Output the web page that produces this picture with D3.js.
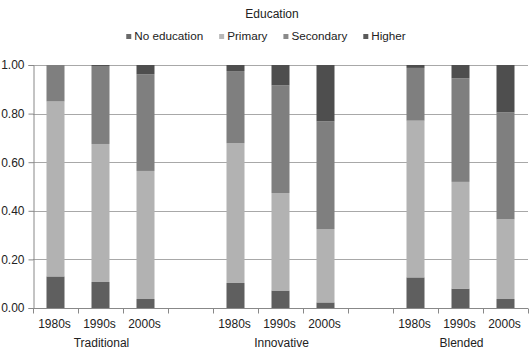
<!DOCTYPE html>
<html lang="en">
  <head>
    <meta charset="utf-8">
    <title>Education stacked bars</title>
    <style>
      body { margin: 0; background: #fff; }
      text { font-family: 'Liberation Sans', Arial, sans-serif; fill: #222; }
    </style>
  </head>
  <body>
    <svg width="530" height="352"></svg>
    <script src="https://cdn.jsdelivr.net/npm/d3@7"></script>
    <script>
      // data
      const groups = ['Traditional', 'Innovative', 'Blended'];
      const decades = ['1980s', '1990s', '2000s'];
      const series = ['No education', 'Primary', 'Secondary', 'Higher'];
      const y_ticks = [0, 0.2, 0.4, 0.6, 0.8, 1.0];

      // one array per series, order: Traditional 80/90/00, Innovative 80/90/00, Blended 80/90/00
      const no_education = [0.130, 0.107, 0.037, 0.103, 0.072, 0.023, 0.126, 0.080, 0.037];
      const primary      = [0.720, 0.568, 0.527, 0.575, 0.401, 0.302, 0.645, 0.439, 0.328];
      const secondary    = [0.150, 0.321, 0.398, 0.297, 0.443, 0.443, 0.217, 0.426, 0.440];
      const higher       = [0.000, 0.004, 0.038, 0.025, 0.084, 0.232, 0.012, 0.055, 0.195];

      const colors = ['#5f5f5f', '#b2b2b2', '#7f7f7f', '#4e4e4e'];
      const legend_colors = ['#6a6a6a', '#b8b8b8', '#8a8a8a', '#5a5a5a'];

      const svg = d3.select('svg');
      const margin = {top: 65, right: 2, bottom: 44, left: 33};
      const svg_width = +svg.attr('width');
      const svg_height = +svg.attr('height');

      // slots: 3 decades per group, with one empty slot between groups
      const slots = [];
      groups.forEach((g, gi) => {
        decades.forEach(d => slots.push({key: g + '-' + d, group: g, decade: d}));
        if (gi < groups.length - 1) slots.push({key: 'gap-' + gi, group: null, decade: ''});
      });

      const rows = [];
      let k = 0;
      slots.forEach(s => {
        if (s.group === null) return;
        rows.push({
          key: s.key,
          'No education': no_education[k],
          'Primary': primary[k],
          'Secondary': secondary[k],
          'Higher': higher[k]
        });
        k++;
      });

      const x_scale = d3.scaleBand()
        .domain(slots.map(s => s.key))
        .range([margin.left, svg_width - margin.right])
        .paddingInner(0.6)
        .paddingOuter(0.3);
      const step = x_scale.step();

      const y_scale = d3.scaleLinear()
        .domain([0, 1])
        .range([svg_height - margin.bottom, margin.top]);

      // gridlines
      svg.append('g')
        .selectAll('line')
        .data(y_ticks.filter(t => t > 0)).enter()
        .append('line')
          .attr('x1', margin.left)
          .attr('x2', svg_width - margin.right)
          .attr('y1', d => Math.round(y_scale(d)) + 0.5)
          .attr('y2', d => Math.round(y_scale(d)) + 0.5)
          .attr('stroke', '#a8a8a8');

      // stacked bars
      const stack = d3.stack().keys(series)(rows);
      svg.append('g')
        .selectAll('g')
        .data(stack).enter()
        .append('g')
          .attr('fill', (d, i) => colors[i])
        .selectAll('rect')
        .data(d => d).enter()
        .append('rect')
          .attr('x', d => x_scale(d.data.key))
          .attr('y', d => y_scale(d[1]))
          .attr('height', d => y_scale(d[0]) - y_scale(d[1]))
          .attr('width', x_scale.bandwidth());

      // y axis
      const y_axis = d3.axisLeft(y_scale)
        .tickValues(y_ticks)
        .tickFormat(d3.format('.2f'))
        .tickSize(5)
        .tickPadding(4);
      const y_axis_g = svg.append('g')
        .attr('transform', `translate(${margin.left + 0.5},0)`)
        .call(y_axis);
      y_axis_g.select('.domain').attr('stroke', '#888');
      y_axis_g.selectAll('.tick line').attr('stroke', '#888');
      y_axis_g.selectAll('.tick text')
        .attr('font-size', '12px')
        .attr('font-family', "'Liberation Sans', Arial, sans-serif")
        .attr('fill', '#222');

      // x axis: baseline with ticks between slots
      const base_y = Math.round(y_scale(0)) + 0.5;
      const x_axis_g = svg.append('g');
      x_axis_g.append('line')
        .attr('x1', margin.left)
        .attr('x2', svg_width - margin.right)
        .attr('y1', base_y)
        .attr('y2', base_y)
        .attr('stroke', '#888');
      const boundaries = slots.map(s => x_scale(s.key) - step * 0.3)
        .concat([x_scale(slots[slots.length - 1].key) + x_scale.bandwidth() + step * 0.3]);
      x_axis_g.selectAll('line.tk')
        .data(boundaries).enter()
        .append('line')
          .attr('class', 'tk')
          .attr('x1', d => Math.round(d) + 0.5)
          .attr('x2', d => Math.round(d) + 0.5)
          .attr('y1', base_y)
          .attr('y2', base_y + 5)
          .attr('stroke', '#888');

      // decade labels
      svg.append('g')
        .selectAll('text')
        .data(slots.filter(s => s.group !== null)).enter()
        .append('text')
          .attr('x', d => x_scale(d.key) + x_scale.bandwidth() / 2 - 1)
          .attr('y', base_y + 19)
          .attr('text-anchor', 'middle')
          .attr('font-size', '12px')
          .text(d => d.decade);

      // group labels under the middle decade
      svg.append('g')
        .selectAll('text')
        .data(groups).enter()
        .append('text')
          .attr('x', g => x_scale(g + '-' + decades[1]) + x_scale.bandwidth() / 2 + 1)
          .attr('y', base_y + 38)
          .attr('text-anchor', 'middle')
          .attr('font-size', '12px')
          .text(g => g);

      // legend
      svg.append('text')
        .attr('x', 272)
        .attr('y', 18)
        .attr('text-anchor', 'middle')
        .attr('font-size', '12px')
        .text('Education');

      const legend_g = svg.append('g');
      let lx = 0;
      series.forEach((s, i) => {
        const item = legend_g.append('g').attr('transform', `translate(${lx},0)`);
        item.append('rect')
          .attr('x', 0).attr('y', 34)
          .attr('width', 5).attr('height', 5)
          .attr('fill', legend_colors[i]);
        const t = item.append('text')
          .attr('x', 8).attr('y', 40)
          .attr('font-size', '11.7px')
          .text(s);
        lx += 8 + t.node().getComputedTextLength() + 16;
      });
      const legend_w = lx - 16;
      legend_g.attr('transform', `translate(${128 + (404 - 128 - legend_w) / 2},0)`);
    </script>
  </body>
</html>
